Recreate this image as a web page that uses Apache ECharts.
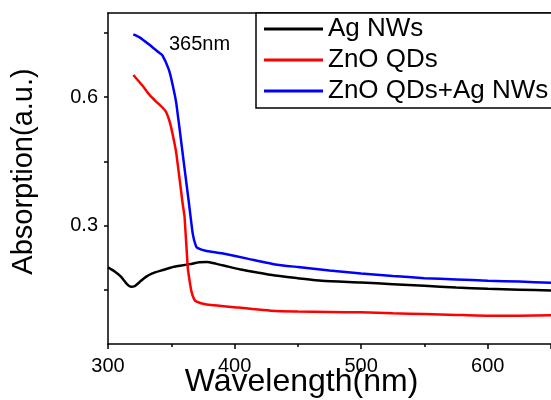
<!DOCTYPE html>
<html>
<head>
<meta charset="utf-8">
<script src="https://cdn.jsdelivr.net/npm/echarts@6/dist/echarts.min.js"></script>
<style>
    html, body { margin: 0; padding: 0; background: #fff; }
    #chart { width: 551px; height: 400px; }
</style>
</head>
<body>
<div id="chart"></div>
<script>
    // values
    const agWave = [300, 305, 310, 315, 318, 321, 325, 330, 335, 341, 350, 357, 365, 372, 378, 385, 395, 404, 418, 432, 450, 469, 500, 525, 550, 575, 600, 625, 650]
    const agAbs = [0.202, 0.193, 0.181, 0.163, 0.157, 0.158, 0.168, 0.180, 0.188, 0.194, 0.202, 0.206, 0.210, 0.214, 0.215, 0.211, 0.204, 0.198, 0.190, 0.183, 0.177, 0.171, 0.167, 0.163, 0.159, 0.155, 0.152, 0.150, 0.148]

    const znoWave = [320, 327, 333, 338, 343, 346, 349, 352, 354, 359, 360.5, 363, 364.5, 366, 368, 370, 377, 400, 432, 450, 475, 500, 525, 550, 575, 600, 625, 650]
    const znoAbs = [0.652, 0.628, 0.605, 0.590, 0.576, 0.565, 0.540, 0.500, 0.468, 0.351, 0.320, 0.202, 0.170, 0.145, 0.128, 0.122, 0.116, 0.109, 0.100, 0.099, 0.098, 0.097, 0.095, 0.093, 0.091, 0.089, 0.089, 0.090]

    const mixWave = [320, 325, 333, 340, 343, 348, 351, 354, 359, 364, 367, 369.5, 371, 377, 390, 411, 432, 450, 475, 500, 525, 550, 575, 600, 625, 650]
    const mixAbs = [0.747, 0.740, 0.722, 0.705, 0.698, 0.665, 0.630, 0.585, 0.468, 0.351, 0.280, 0.252, 0.247, 0.241, 0.235, 0.222, 0.209, 0.203, 0.195, 0.188, 0.182, 0.177, 0.174, 0.171, 0.169, 0.166]

    const seriesNames = ['Ag NWs', 'ZnO QDs', 'ZnO QDs+Ag NWs']
    const xLabels = [300, 400, 500, 600]
    const yLabels = [0.3, 0.6]
    const yTicks = [0.15, 0.3, 0.45, 0.6, 0.75]

    const font = 'Liberation Sans, Arial, sans-serif'

    function pairs(xs, ys) {
        return xs.map((x, i) => [x, ys[i]])
    }

    let chart = echarts.init(document.getElementById('chart'))
    let option = {
        animation: false,
        backgroundColor: '#fff',
        grid: { left: 108, top: 13, right: 0, bottom: 56, outerBoundsMode: 'none', containLabel: false },
        legend: {
            orient: 'vertical',
            left: 256,
            top: 13,
            padding: [3, 4, 4, 8],
            itemGap: 5,
            itemWidth: 59,
            itemHeight: 3,
            icon: 'rect',
            backgroundColor: '#fff',
            borderColor: '#000',
            borderWidth: 1.5,
            borderRadius: 0,
            textStyle: { fontFamily: font, fontSize: 26, color: '#000' },
            data: seriesNames
        },
        graphic: [{
            type: 'text',
            left: 169,
            top: 34,
            style: { text: '365nm', font: '20px ' + font, fill: '#000' }
        }],
        xAxis: [{
            type: 'value',
            min: 300,
            max: 650,
            interval: 100,
            name: 'Wavelength(nm)',
            nameLocation: 'middle',
            nameGap: 22,
            nameMoveOverlap: false,
            nameTextStyle: { fontFamily: font, fontSize: 32, color: '#000', padding: [0, 56, 0, 0] },
            axisLine: { lineStyle: { color: '#000', width: 1.5 } },
            axisTick: { show: true, length: 5, lineStyle: { color: '#000', width: 1.5 } },
            minorTick: { show: true, splitNumber: 2, length: 3, lineStyle: { color: '#000', width: 1.5 } },
            splitLine: { show: false },
            axisLabel: {
                fontFamily: font, fontSize: 20, color: '#000', margin: 12,
                formatter: v => xLabels.includes(v) ? String(v) : ''
            }
        }, {
            type: 'value',
            position: 'top',
            min: 300,
            max: 650,
            axisLine: { show: true, lineStyle: { color: '#000', width: 1.5 } },
            axisTick: { show: false },
            axisLabel: { show: false },
            splitLine: { show: false }
        }],
        yAxis: {
            type: 'value',
            min: 0.023,
            max: 0.797,
            name: 'Absorption(a.u.)',
            nameLocation: 'middle',
            nameGap: 70,
            nameMoveOverlap: false,
            nameTextStyle: { fontFamily: font, fontSize: 29, color: '#000', padding: [0, 0, 0, 14] },
            axisLine: { show: true, lineStyle: { color: '#000', width: 1.5 } },
            axisTick: { show: true, length: 4, customValues: yTicks, lineStyle: { color: '#000', width: 1.5 } },
            splitLine: { show: false },
            axisLabel: {
                fontFamily: font, fontSize: 20, color: '#000', margin: 10,
                customValues: yLabels,
                formatter: v => v.toFixed(1)
            }
        },
        series: [
            {
                name: seriesNames[0],
                type: 'line',
                data: pairs(agWave, agAbs),
                symbol: 'none',
                smooth: 0.2,
                lineStyle: { color: '#000', width: 2.5 },
                itemStyle: { color: '#000' }
            },
            {
                name: seriesNames[1],
                type: 'line',
                data: pairs(znoWave, znoAbs),
                symbol: 'none',
                smooth: 0.15,
                lineStyle: { color: '#ff0000', width: 2.5 },
                itemStyle: { color: '#ff0000' }
            },
            {
                name: seriesNames[2],
                type: 'line',
                data: pairs(mixWave, mixAbs),
                symbol: 'none',
                smooth: 0.15,
                lineStyle: { color: '#0000ff', width: 2.5 },
                itemStyle: { color: '#0000ff' }
            }
        ]
    }
    chart.setOption(option)
</script>
</body>
</html>
